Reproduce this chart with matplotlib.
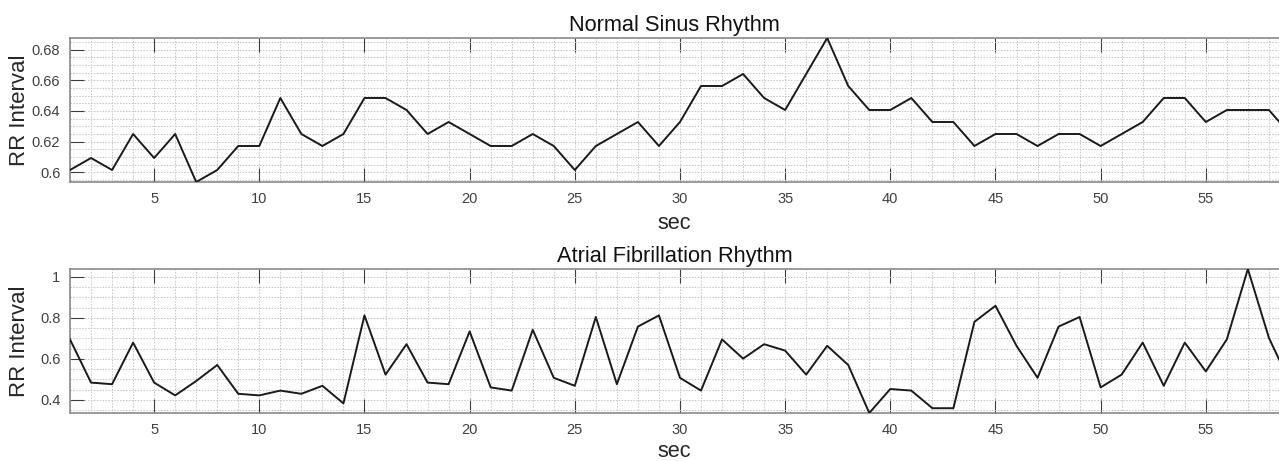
import numpy as np
import matplotlib
matplotlib.use("Agg")
import matplotlib.pyplot as plt
from matplotlib.ticker import MultipleLocator

plt.rcParams['font.family'] = ['Liberation Sans', 'DejaVu Sans']

# RR intervals in units of 1/128 s (sample counts), one per second
seconds = list(range(1, 60))
nsr_counts = [77, 78, 77, 80, 78, 80, 76, 77, 79, 79,
              83, 80, 79, 80, 83, 83, 82, 80, 81, 80,
              79, 79, 80, 79, 77, 79, 80, 81, 79, 81,
              84, 84, 85, 83, 82, 85, 88, 84, 82, 82,
              83, 81, 81, 79, 80, 80, 79, 80, 80, 79,
              80, 81, 83, 83, 81, 82, 82, 82, 80]
af_counts = [89, 62, 61, 87, 62, 54, 63, 73, 55, 54,
             57, 55, 60, 49, 104, 67, 86, 62, 61, 94,
             59, 57, 95, 65, 60, 103, 61, 97, 104, 65,
             57, 89, 77, 86, 82, 67, 85, 73, 43, 58,
             57, 46, 46, 100, 110, 85, 65, 97, 103, 59,
             67, 87, 60, 87, 69, 89, 133, 90, 62]
fs = 128.0
nsr = np.array(nsr_counts) / fs
af = np.array(af_counts) / fs

titles = ["Normal Sinus Rhythm", "Atrial Fibrillation Rhythm"]
xlabel = "sec"
ylabel = "RR Interval"
x_ticks = [5, 10, 15, 20, 25, 30, 35, 40, 45, 50, 55]

fig = plt.figure(figsize=(12.79, 4.61), dpi=100)
ax1 = fig.add_axes([70/1279, 1-182/461, 1-70/1279, 144/461])
ax2 = fig.add_axes([70/1279, 1-413/461, 1-70/1279, 144/461])

spine_col = '#8a8a8a'
tick_col = '#3c3c3c'
grid_col = '#c4c4c4'

configs = [
    (ax1, nsr, titles[0], (76/fs, 88/fs), [0.6, 0.62, 0.64, 0.66, 0.68], ['0.6', '0.62', '0.64', '0.66', '0.68'], 0.005, 5),
    (ax2, af, titles[1], (43/fs, 133/fs), [0.4, 0.6, 0.8, 1.0], ['0.4', '0.6', '0.8', '1'], 0.05, 3),
]

for ax, y, title, ylim, yt, ytl, yminor, xlpad in configs:
    ax.plot(seconds, y, color='#1a1a1a', lw=1.4, zorder=3, clip_on=True)
    ax.set_xlim(1, 58.48)
    ax.set_ylim(*ylim)
    ax.set_xticks(x_ticks)
    ax.set_xticklabels([str(t) for t in x_ticks])
    ax.set_yticks(yt)
    ax.set_yticklabels(ytl)
    ax.xaxis.set_minor_locator(MultipleLocator(1))
    ax.yaxis.set_minor_locator(MultipleLocator(yminor))
    ax.grid(which='both', color=grid_col, linestyle=(0, (1.5, 1.5)), linewidth=0.7, zorder=0)
    ax.set_axisbelow(True)
    ax.tick_params(which='major', direction='in', length=10, width=0.8, color=tick_col,
                   labelcolor='#404040', labelsize=10.5, top=True, right=False, pad=7)
    ax.tick_params(which='minor', length=0)
    for s in ['left', 'bottom', 'top']:
        ax.spines[s].set_color(spine_col)
        ax.spines[s].set_linewidth(1.2)
    ax.spines['right'].set_visible(False)
    ax.set_title(title, fontsize=15.7, color='#111111', pad=5)
    ax.set_xlabel(xlabel, fontsize=15.7, color='#262626', labelpad=xlpad)
    ax.set_ylabel(ylabel, fontsize=16, color='#262626')
    ax.yaxis.set_label_coords(-40/1209, 0.5)

fig.savefig("out.png", dpi=100)
